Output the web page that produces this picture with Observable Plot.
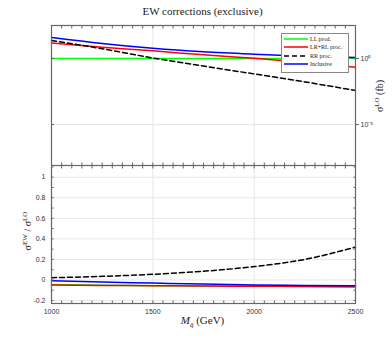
<!DOCTYPE html>
<html>
<head>
<meta charset="utf-8">
<script src="https://cdn.jsdelivr.net/npm/d3@7"></script>
<script src="https://cdn.jsdelivr.net/npm/@observablehq/plot@0.6"></script>
<style>
  html, body { margin: 0; padding: 0; background: #fff; }
  #wrap { position: relative; width: 392px; height: 343px; overflow: hidden; }
  #wrap > svg { position: absolute; left: 0; }
  .serif { font-family: "Liberation Serif", "DejaVu Serif", serif; color: #222; position: absolute; white-space: nowrap; }
  #title { left: 0; width: 405px; top: 5px; text-align: center; font-size: 11px; }
  #xlabel { left: 0; width: 405px; top: 314px; text-align: center; font-size: 11px; }
  #ylabTop { left: 379px; top: 96px; font-size: 10px; transform: translate(-50%,-50%) rotate(-90deg); }
  #ylabBot { left: 27px; top: 231px; font-size: 10px; transform: translate(-50%,-50%) rotate(-90deg); }
  #legend { position: absolute; left: 281px; top: 33px; width: 66px; height: 38px; background: #fff; border: 1px solid #888; }
  .lrow { position: absolute; left: 2px; height: 8px; font-family: "Liberation Serif", "DejaVu Serif", serif; font-size: 6px; color: #222; display: flex; align-items: center; }
  #legend .lrow svg { position: static; margin-right: 2px; display: block; }
</style>
</head>
<body>
<div id="wrap">
  <div id="title" class="serif">EW corrections (exclusive)</div>
  <div id="xlabel" class="serif"><i>M</i><sub style="font-size:7px"><i>q̃</i></sub> (GeV)</div>
  <div id="ylabTop" class="serif">σ<sup style="font-size:7px">LO</sup> (fb)</div>
  <div id="ylabBot" class="serif">σ<sup style="font-size:7px">EW</sup> / σ<sup style="font-size:7px">LO</sup></div>
</div>
<script>
// ---- data ----
const masses = [1000, 1250, 1500, 1750, 2000, 2250, 2500];
const seriesNames = ["LL prod.", "LR+RL proc.", "RR proc.", "Inclusive"];
const seriesColors = ["#00ff00", "#ff0000", "#000000", "#0000ff"];
// LO cross sections (fb)
const loLL  = [1, 1, 1, 1, 1, 1, 1];
const loLR  = [15, 7.2, 3.8, 1.9, 1.05, 0.5, 0.22];
const loRR  = [23, 5.5, 1.1, 0.27, 0.068, 0.017, 0.0038];
const loInc = [39, 13.7, 5.9, 3.2, 2.1, 1.5, 1.22];
// EW / LO ratios
const ewLL  = [-0.044, -0.052, -0.056, -0.059, -0.061, -0.063, -0.065];
const ewLR  = [-0.05, -0.053, -0.056, -0.059, -0.061, -0.063, -0.065];
const ewRR  = [0.022, 0.035, 0.055, 0.085, 0.13, 0.2, 0.32];
const ewInc = [-0.008, -0.02, -0.03, -0.04, -0.048, -0.053, -0.056];
const topTicks = [1, 1e-5];
const topTickLabels = ["10⁰", "10⁻⁵"];
const botTicks = [-0.2, 0, 0.2, 0.4, 0.6, 0.8, 1];
const xTicks = [1000, 1500, 2000, 2500];

function rows(vals) { return masses.map((m, i) => ({m, v: vals[i]})); }
const loSeries = [loLL, loLR, loRR, loInc];
const ewSeries = [ewLL, ewLR, ewRR, ewInc];

const axisColor = "#666";
const gridColor = "#e6e6e6";
const font = "Liberation Sans, Arial, sans-serif";
const minorX = d3.range(1000, 2501, 50);

function lineMarks(series) {
  return series.map((vals, i) => Plot.line(rows(vals), {
    x: "m", y: "v", stroke: seriesColors[i], strokeWidth: 1.5, curve: "monotone-x",
    strokeDasharray: i === 2 ? "5,3" : null
  }));
}

const topPlot = Plot.plot({
  width: 392, height: 165,
  marginTop: 25, marginBottom: 0, marginLeft: 51, marginRight: 37,
  style: {fontFamily: font, fontSize: "7px", color: "#333", background: "transparent"},
  x: {domain: [1000, 2500], axis: null},
  y: {type: "log", domain: [Math.pow(10, -8.1), Math.pow(10, 2.5)], axis: null},
  marks: [
    Plot.gridX(xTicks.slice(1, 3), {stroke: gridColor, strokeOpacity: 1}),
    Plot.gridY(topTicks, {stroke: gridColor, strokeOpacity: 1}),
    ...lineMarks(loSeries),
    Plot.axisX(minorX, {anchor: "top", tickSize: -2.5, tickFormat: () => "", label: null, stroke: axisColor}),
    Plot.axisX(minorX, {anchor: "bottom", tickSize: -2.5, tickFormat: () => "", label: null, stroke: axisColor}),
    Plot.axisY(topTicks, {anchor: "right", tickSize: 3, tickPadding: 2, tickFormat: (d) => topTickLabels[topTicks.indexOf(d)], label: null, stroke: axisColor, fill: "#333"}),
    Plot.axisY(topTicks, {anchor: "left", tickSize: -3, tickFormat: () => "", label: null, stroke: axisColor}),
    Plot.frame({stroke: axisColor, strokeWidth: 1.2})
  ]
});
topPlot.style.top = "0px";

const botPlot = Plot.plot({
  width: 392, height: 178,
  marginTop: 0, marginBottom: 40, marginLeft: 51, marginRight: 37,
  style: {fontFamily: font, fontSize: "7px", color: "#333", background: "transparent"},
  x: {domain: [1000, 2500], axis: null},
  y: {domain: [-0.229, 1.114], axis: null},
  marks: [
    Plot.gridX(xTicks.slice(1, 3), {stroke: gridColor, strokeOpacity: 1}),
    Plot.gridY(botTicks, {stroke: gridColor, strokeOpacity: 1}),
    ...lineMarks(ewSeries),
    Plot.axisX(minorX, {anchor: "top", tickSize: -2.5, tickFormat: () => "", label: null, stroke: axisColor}),
    Plot.axisX(minorX, {anchor: "bottom", tickSize: -2.5, tickFormat: () => "", label: null, stroke: axisColor}),
    Plot.axisX(xTicks, {anchor: "bottom", tickSize: 0, tickPadding: 6, tickFormat: d => String(d), label: null, fill: "#333"}),
    Plot.axisY(d3.range(-0.2, 1.11, 0.1), {anchor: "left", tickSize: -2.5, tickFormat: () => "", label: null, stroke: axisColor}),
    Plot.axisY(d3.range(-0.2, 1.11, 0.1), {anchor: "right", tickSize: -2.5, tickFormat: () => "", label: null, stroke: axisColor}),
    Plot.axisY(botTicks, {anchor: "left", tickSize: 0, tickPadding: 6, tickFormat: d => String(+d.toFixed(1)), label: null, fill: "#333"}),
    Plot.frame({stroke: axisColor, strokeWidth: 1.2})
  ]
});
botPlot.style.top = "165px";

const wrap = document.getElementById("wrap");
wrap.prepend(botPlot);
wrap.prepend(topPlot);

// legend
const legend = document.createElement("div");
legend.id = "legend";
seriesNames.forEach((name, i) => {
  const row = document.createElement("div");
  row.className = "lrow";
  row.style.top = (0.5 + i * 8.6) + "px";
  row.innerHTML = `<svg width="24" height="6"><line x1="0" y1="3" x2="24" y2="3" stroke="${seriesColors[i]}" stroke-width="1.5" ${i === 2 ? 'stroke-dasharray="5,3"' : ''}/></svg><span>${name}</span>`;
  legend.appendChild(row);
});
wrap.appendChild(legend);
</script>
</body>
</html>
